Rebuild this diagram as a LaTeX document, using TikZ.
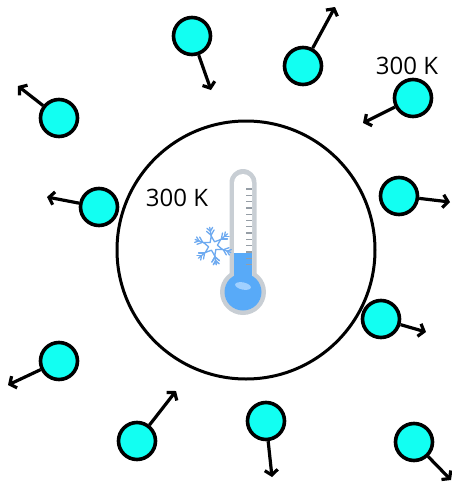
\documentclass[tikz,border=0pt]{standalone}
\usepackage{fontspec}
\setmainfont{Open Sans}
\usetikzlibrary{arrows.meta}
\definecolor{ballfill}{RGB}{18,255,242}
\definecolor{tubegray}{RGB}{200,206,212}
\definecolor{tickgray}{RGB}{150,158,166}
\definecolor{mercury}{RGB}{88,170,248}
\definecolor{shine}{RGB}{160,208,255}
\definecolor{frost}{RGB}{110,170,240}
\tikzset{
  particle/.style={circle, draw=black, line width=3.6pt, fill=ballfill, minimum size=37pt, inner sep=0pt},
  velocity/.style={line width=3.2pt, -{Straight Barb[length=5pt,width=13pt]}},
  templabel/.style={font=\fontsize{24}{28}\selectfont, inner sep=0pt},
  chamber/.style={circle, draw=black, line width=3pt, minimum size=258pt, inner sep=0pt},
  tick/.style={tickgray, line width=1.3pt},
  flake/.style={frost, line width=1.3pt, line cap=round}
}
\begin{document}
\begin{tikzpicture}[x=1pt, y=-1pt]
\useasboundingbox (0,0) rectangle (452,483);

% container wall
\node[chamber] (wall) at (246,250) {};

% thermometer: glass tube and bulb
\fill[tubegray] (229.5,292) -- (229.5,182.5) arc[start angle=180, end angle=360, radius=13.5] -- (256.5,292) -- cycle;
\fill[tubegray] (243,292) circle (23);
\fill[white] (234,280) -- (234,183) arc[start angle=180, end angle=360, radius=9] -- (252,280) -- cycle;
\fill[mercury] (234,253) rectangle (252,292);
\fill[mercury] (243,292) circle (18.5);
\fill[shine, rotate around={-12:(243,286)}] (243,286) ellipse (8 and 3.6);
\foreach \k in {0,...,12}
  \draw[tick] (246,{189+6.3*\k}) -- (252,{189+6.3*\k});

% snowflake
\begin{scope}[shift={(213,246)}]
  \foreach \a in {80,140,...,440} {
    \draw[flake] (\a:6) -- (\a:19);
    \draw[flake] (\a:11) -- ++(\a+40:6);
    \draw[flake] (\a:11) -- ++(\a-40:6);
    \draw[flake] (\a:15) -- ++(\a+40:4.5);
    \draw[flake] (\a:15) -- ++(\a-40:4.5);
  }
  \draw[flake, fill=white, line join=round]
    (80:10) -- (110:4.5) -- (140:10) -- (170:4.5) -- (200:10) -- (230:4.5) --
    (260:10) -- (290:4.5) -- (320:10) -- (350:4.5) -- (20:10) -- (50:4.5) -- cycle;
\end{scope}

% temperature labels
\node[templabel] (tin) at (177,198) {300 K};
\node[templabel] (tout) at (407,66) {300 K};

% gas particles and their velocities
\node[particle] (b1) at (192,36) {};
\node[particle] (b2) at (303,66) {};
\node[particle] (b3) at (413,98) {};
\node[particle] (b4) at (59,118) {};
\node[particle] (b5) at (99,207) {};
\node[particle] (b6) at (399,196) {};
\node[particle] (b7) at (381,319) {};
\node[particle] (b8) at (59,361) {};
\node[particle] (b9) at (137,441) {};
\node[particle] (b10) at (266,421) {};
\node[particle] (b11) at (414,442) {};

\coordinate (v1) at (211,90);
\coordinate (v2) at (335,7);
\coordinate (v3) at (363,123);
\coordinate (v4) at (18,86);
\coordinate (v5) at (47,197);
\coordinate (v6) at (450,202);
\coordinate (v7) at (426,332);
\coordinate (v8) at (8,385);
\coordinate (v9) at (176,391);
\coordinate (v10) at (272,477);
\coordinate (v11) at (451,480);

\foreach \i in {1,...,11}
  \draw[velocity] (b\i) -- (v\i);
\end{tikzpicture}
\end{document}
